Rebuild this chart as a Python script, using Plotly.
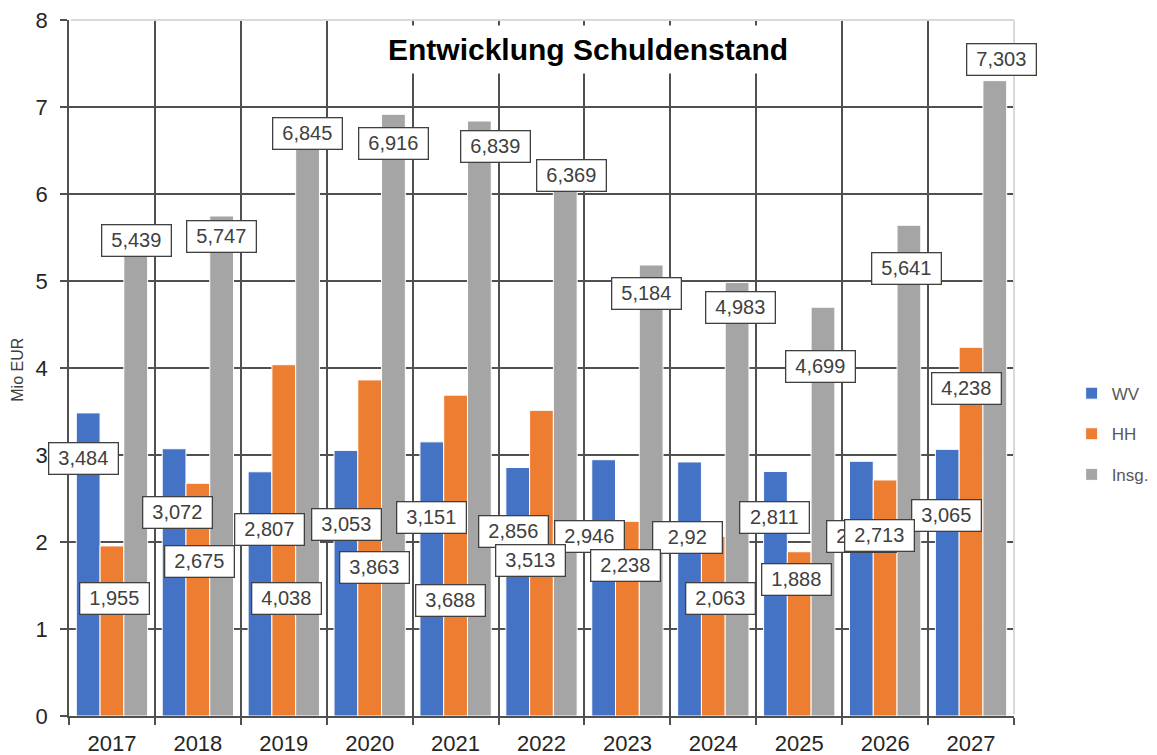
import plotly.graph_objects as go

# ---- data ----
years = ["2017", "2018", "2019", "2020", "2021", "2022", "2023", "2024", "2025", "2026", "2027"]
wv = [3.484, 3.072, 2.807, 3.053, 3.151, 2.856, 2.946, 2.92, 2.811, 2.928, 3.065]
hh = [1.955, 2.675, 4.038, 3.863, 3.688, 3.513, 2.238, 2.063, 1.888, 2.713, 4.238]
insg = [5.439, 5.747, 6.845, 6.916, 6.839, 6.369, 5.184, 4.983, 4.699, 5.641, 7.303]
series_names = ["WV", "HH", "Insg."]
title_text = "Entwicklung Schuldenstand"
y_title = "Mio EUR"

# ---- label placement (pixel offsets from category centre / bar top, as moved in the original) ----
wv_dx = [-28.5, -20.5, -14.5, -23, -24.5, -28, -38, -26, -25, -23.5, -24.5]
wv_dy = [-46, -64, -58, -74, -76, -64, -77, -76, -46, -75, -66]
hh_dx = [3, 2, 2.5, 5, -5, -11, -2, 7.5, -3, -5.5, -5]
hh_dy = [-53, -78, -234, -188, -205, -150, -44, -62, -28, -56, -41]
insg_dx = [24.5, 24, 24, 23.5, 40, 30, 19, 27, 21.5, 21.5, 30.5]
insg_dy = [2, -20, -13, -29, -25, -14, -29, -25, -59, -43, 21]

colors = ["#4472C4", "#ED7D31", "#A5A5A5"]
FONT = "Liberation Sans, Arial, sans-serif"
TXT = "#404040"
GRID = "#505050"

fig = go.Figure()
for i, (name, vals) in enumerate(zip(series_names, [wv, hh, insg])):
    fig.add_trace(go.Bar(
        x=years, y=vals, name=name, legendgroup=name,
        marker=dict(color=colors[i], line=dict(color="white", width=1)),
        hoverinfo="skip",
    ))


def fmt(v):
    return f"{v:g}".replace(".", ",")


annotations = []
for vals, dxs, dys in [(wv, wv_dx, wv_dy), (hh, hh_dx, hh_dy), (insg, insg_dx, insg_dy)]:
    for idx, (v, dx, dy) in enumerate(zip(vals, dxs, dys)):
        annotations.append(dict(
            x=idx, y=v, xref="x", yref="y", text=fmt(v), showarrow=False,
            xshift=dx, yshift=dy, xanchor="center", yanchor="middle",
            font=dict(family=FONT, size=20, color=TXT),
            bgcolor="white", bordercolor=TXT, borderwidth=1.3, borderpad=3,
            width=62, height=24,
        ))

# title with white background over gridlines
annotations.append(dict(
    x=0.549, y=0.9576, xref="paper", yref="paper", text="<b>" + title_text + "</b>",
    showarrow=False, xanchor="center", yanchor="middle",
    font=dict(family=FONT, size=30, color="#000000"),
    bgcolor="white", borderpad=7,
))
# y-axis title
annotations.append(dict(
    x=-0.054, y=0.4975, xref="paper", yref="paper", text=y_title, showarrow=False,
    textangle=-90, xanchor="center", yanchor="middle",
    font=dict(family=FONT, size=16, color=TXT),
))

shapes = [
    # light top border and right border (as in the original)
    dict(type="line", xref="x domain", yref="y domain", x0=0.002, x1=1, y0=1, y1=1,
         line=dict(color="#D9D9D9", width=2), layer="above"),
    dict(type="line", xref="x domain", yref="y domain", x0=1, x1=1, y0=0.002, y1=1,
         line=dict(color="#D9D9D9", width=2), layer="above"),
]

fig.update_layout(
    width=1157, height=755,
    margin=dict(l=69, r=143, t=20, b=39, autoexpand=False),
    paper_bgcolor="white", plot_bgcolor="white",
    barmode="group", bargap=0.17, bargroupgap=0,
    font=dict(family=FONT, color=TXT),
    showlegend=True,
    legend=dict(
        x=1.061, y=0.405, xanchor="left", yanchor="middle",
        font=dict(family=FONT, size=17, color="#595959"),
        tracegroupgap=15.5, bgcolor="rgba(0,0,0,0)",
    ),
    annotations=annotations,
    shapes=shapes,
)
fig.update_xaxes(
    type="category", range=[-0.5, len(years) - 0.5], autorange=False,
    tickson="boundaries", showgrid=True, gridcolor=GRID, gridwidth=1.5,
    ticks="outside", ticklen=7, tickcolor=GRID, tickwidth=1.5, tickangle=0,
    showline=True, linecolor=GRID, linewidth=1.5, automargin=False,
    tickfont=dict(family=FONT, size=22, color="#262626"), ticklabelstandoff=7,
)
fig.update_yaxes(
    range=[0, 8], autorange=False, tickvals=list(range(0, 9)), showgrid=True,
    gridcolor=GRID, gridwidth=1.5, ticklabeloverflow="allow",
    zeroline=False, ticks="outside", ticklen=7, tickcolor=GRID, tickwidth=1.5,
    showline=True, linecolor=GRID, linewidth=1.5, automargin=False,
    tickfont=dict(family=FONT, size=22, color="#262626"), ticklabelstandoff=8,
)

fig.write_html("out.html", config={"displayModeBar": False},
               post_script="document.body.style.margin='0';")
